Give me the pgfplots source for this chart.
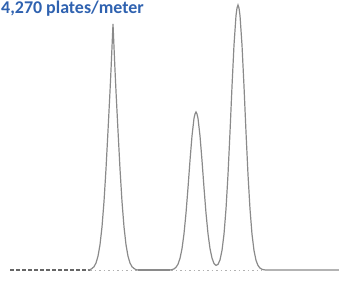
\documentclass[border=0pt]{standalone}
\usepackage{pgfplots}
\pgfplotsset{compat=1.18}
\usepackage{fontspec}
\setmainfont{Carlito}
\definecolor{titleblue}{HTML}{2F62B0}
\definecolor{trace}{HTML}{8A8A8A}
\begin{document}
\begin{tikzpicture}
\begin{axis}[
  width=339bp, height=283bp, scale only axis,
  xmin=0, xmax=339, ymin=-13, ymax=270,
  axis lines=none, ticks=none, clip=false,
]
% dashed lead-in baseline
\addplot[color=black!60, line width=1.4bp, dash pattern=on 4bp off 2bp] coordinates {(10,0) (90,0)};
% dotted reference baseline under peaks
\addplot[color=black!30, line width=0.8bp, dash pattern=on 1.5bp off 3bp] coordinates {(90,0) (262,0)};
% chromatogram trace
\addplot[color=trace, line width=1.2bp] coordinates {
(88,0) (90,0.3) (92,1.5) (94,3.3) (96,7.0) (98,13.8) (100,25.3) (102,43.1) (104,68.4) (106,101.1) (108,139.2) (110,178.6) (111,200) (112,223) (113,246) (114,223) (115,200) (116,178.6) (118,139.2) (120,101.1) (122,68.4) (124,43.1) (126,25.3) (128,13.8) (130,7.0) (132,3.3) (134,1.5) (136,0.4) (138,0)
(170,0) (172,0.4) (174,1.1) (176,2.7) (178,5.8) (180,11.6) (182,21.3) (184,36.3) (186,56.9) (188,82.2) (190,109.5) (192,134.1) (194,151.7) (195,156) (196,158) (197,156) (198,151.7) (200,134.1) (202,109.5) (204,82.2) (206,56.9) (208,36.3) (210,21.4) (212,11.9) (214,6.5) (216,4.6) (218,5.6) (220,10.1) (222,19.6) (224,35.8) (226,61.0) (228,95.4) (230,137.8) (232,183.6) (234,225.0) (236,254.4) (237,262) (238,265) (239,262) (240,254.4) (242,225.0) (244,183.6) (246,137.8) (248,95.4) (250,61.0) (252,35.8) (254,19.5) (256,9.7) (258,4.5) (260,1.9) (262,0.7) (264,0.2) (266,0) (339,0)
};
\addplot[color=trace, line width=1.2bp] coordinates {(138,0) (170,0)};
\node[anchor=base west, inner sep=0pt, text=titleblue, font=\fontsize{18}{18}\selectfont\bfseries] at (axis cs:1,256) {4,270 plates/meter};
\end{axis}
\pgfresetboundingbox
\useasboundingbox (0,0) rectangle (339bp,283bp);
\end{tikzpicture}
\end{document}
